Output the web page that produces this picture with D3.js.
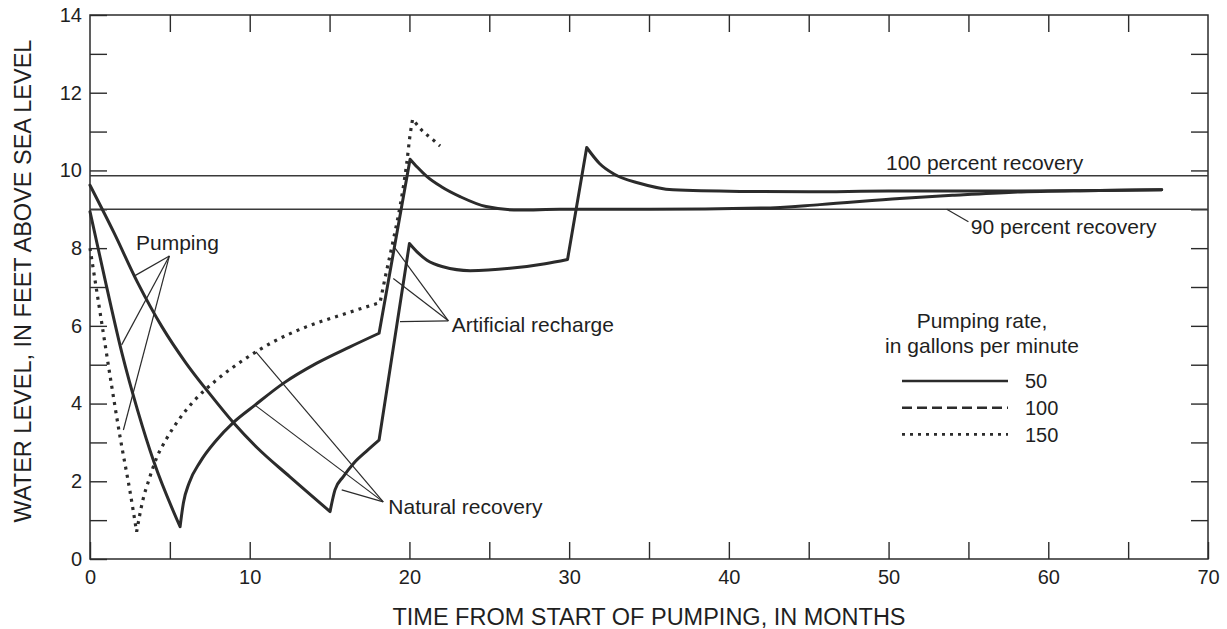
<!DOCTYPE html>
<html>
<head>
<meta charset="utf-8">
<script src="https://cdn.jsdelivr.net/npm/d3@7"></script>
<style>
  html, body { margin: 0; padding: 0; background: #fff; }
  svg { display: block; font-family: "Liberation Sans", Arial, Helvetica, sans-serif; }
  text { fill: #1f1f1f; }
</style>
</head>
<body>
<svg id="chart" width="1227" height="629"></svg>
<script>
// Water level (ft above sea level) against time since pumping began (months),
// for three pumping rates. Break indices mark sharp corners in each record
// (end of pumping, start/end of artificial recharge).
const xTicks = [0, 5, 10, 15, 20, 25, 30, 35, 40, 45, 50, 55, 60, 65, 70];
const yTicks = [0, 1, 2, 3, 4, 5, 6, 7, 8, 9, 10, 11, 12, 13, 14];

const rate50Months = [0, 1.5, 3.0, 4.5, 6.0, 7.5, 9.0, 10.5, 12.5, 15.03,
  15.34, 15.86, 16.5, 17.3, 18.1, 20.0, 20.56, 21.1, 22.1, 23.8, 26.3, 28.5, 29.9,
  31.1, 31.9, 32.8, 34.4, 36.5, 40.7, 45.0, 50.0, 57.8, 62.0, 67.1];
const rate50Level = [9.62, 8.40, 7.10, 5.98, 5.05, 4.25, 3.50, 2.85, 2.12, 1.22,
  1.78, 2.12, 2.46, 2.77, 3.06, 8.12, 7.87, 7.69, 7.52, 7.42, 7.48, 7.60, 7.71,
  10.59, 10.18, 9.91, 9.67, 9.50, 9.46, 9.45, 9.47, 9.47, 9.48, 9.50];
const rate50Breaks = [9, 14, 15, 22, 23];

const rate100Months = [0, 1.0, 2.0, 3.0, 4.0, 5.64, 5.85, 6.2, 6.9, 7.9, 8.97,
  10.33, 12.1, 14.2, 16.28, 18.1, 20.04, 20.5, 21.1, 22.0, 23.2, 24.8, 26.9, 29.4,
  35.0, 42.0, 45.7, 50.7, 54.0, 57.8, 62.0, 67.1];
const rate100Level = [8.94, 7.08, 5.30, 3.80, 2.50, 0.83, 1.45, 1.95, 2.50, 3.05, 3.51,
  3.96, 4.52, 5.04, 5.46, 5.81, 10.29, 10.08, 9.84, 9.58, 9.32, 9.07, 8.98, 9.00,
  9.00, 9.03, 9.12, 9.28, 9.36, 9.44, 9.48, 9.50];
const rate100Breaks = [5, 15, 16];

const rate150Months = [0, 0.63, 1.3, 1.9, 2.5, 2.92, 3.3, 3.7, 4.17, 4.8, 5.5, 6.47,
  7.93, 9.6, 11.48, 13.57, 15.65, 18.16, 18.47, 18.99, 19.41, 19.83, 20.04, 20.2,
  20.76, 21.5, 21.92];
const rate150Level = [8.0, 6.35, 4.6, 3.1, 1.75, 0.70, 1.5, 2.05, 2.6, 3.1, 3.55, 4.05,
  4.61, 5.12, 5.59, 5.98, 6.27, 6.60, 7.22, 8.21, 9.07, 10.18, 10.91, 11.32,
  11.04, 10.78, 10.63];
const rate150Breaks = [5, 17, 23];

// Reference recovery levels
const recoveryNames = ["100 percent recovery", "90 percent recovery"];
const recoveryLevels = [9.86, 9.0];

// Legend
const legendRates = ["50", "100", "150"];
const legendDashes = [null, "10,5", "3,5"];

const svg = d3.select("#chart");
const x = d3.scaleLinear().domain([0, 70]).range([90, 1208]);
const y = d3.scaleLinear().domain([0, 14]).range([559, 15]);
const ink = "#2b2b2b";

// ---- Axes with inward ticks on all four sides ----
const tick = 17;
function styleAxis(g) {
  g.select(".domain").remove();
  g.selectAll(".tick line").attr("stroke", ink).attr("stroke-width", 1.4);
  g.selectAll(".tick text").attr("fill", "#1f1f1f").style("font-size", "20px")
    .style("font-family", '"Liberation Sans", Arial, sans-serif');
}
svg.append("g").attr("transform", `translate(0,${y(0)})`)
  .call(d3.axisBottom(x).tickValues(xTicks).tickSizeInner(-tick).tickSizeOuter(0)
    .tickPadding(11).tickFormat(d => d % 10 === 0 ? d : ""))
  .call(styleAxis);
svg.append("g").attr("transform", `translate(0,${y(14)})`)
  .call(d3.axisTop(x).tickValues(xTicks.slice(1, -1)).tickSizeInner(-tick).tickSizeOuter(0)
    .tickFormat(""))
  .call(styleAxis);
svg.append("g").attr("transform", `translate(${x(0)},0)`)
  .call(d3.axisLeft(y).tickValues(yTicks).tickSizeInner(-tick).tickSizeOuter(0)
    .tickPadding(8).tickFormat(d => d % 2 === 0 ? d : ""))
  .call(styleAxis);
svg.append("g").attr("transform", `translate(${x(70)},0)`)
  .call(d3.axisRight(y).tickValues(yTicks.slice(1, -1)).tickSizeInner(-tick).tickSizeOuter(0)
    .tickFormat(""))
  .call(styleAxis);

// Plot frame
svg.append("rect")
  .attr("x", x(0)).attr("y", y(14))
  .attr("width", x(70) - x(0)).attr("height", y(0) - y(14))
  .attr("fill", "none").attr("stroke", ink).attr("stroke-width", 1.5);

// ---- Recovery reference lines ----
svg.selectAll("line.recovery").data(recoveryLevels).join("line")
  .attr("class", "recovery")
  .attr("x1", x(0)).attr("x2", x(70))
  .attr("y1", d => y(d)).attr("y2", d => y(d))
  .attr("stroke", "#3a3a3a").attr("stroke-width", 1.5);

// ---- Hydrograph curves ----
const line = d3.line().x(d => x(d[0])).y(d => y(d[1])).curve(d3.curveMonotoneX);
// Each record is smoothed piece by piece between its corners, and the pieces
// are joined end to end so the record stays one continuous path
function joined(months, levels, breaks) {
  const pts = months.map((m, i) => [m, levels[i]]);
  const cuts = [0, ...breaks, pts.length - 1];
  const parts = [];
  for (let i = 0; i < cuts.length - 1; i++) {
    let seg = line(pts.slice(cuts[i], cuts[i + 1] + 1));
    if (i > 0) seg = seg.replace(/^M[^CLZ]*/, "");
    parts.push(seg);
  }
  return parts.join("");
}

svg.append("path").attr("d", joined(rate100Months, rate100Level, rate100Breaks))
  .attr("fill", "none").attr("stroke", ink).attr("stroke-width", 3)
  .attr("stroke-linejoin", "round").attr("stroke-linecap", "round");
svg.append("path").attr("d", joined(rate50Months, rate50Level, rate50Breaks))
  .attr("fill", "none").attr("stroke", ink).attr("stroke-width", 3)
  .attr("stroke-linejoin", "round").attr("stroke-linecap", "round");
svg.append("path").attr("d", joined(rate150Months, rate150Level, rate150Breaks))
  .attr("fill", "none").attr("stroke", ink).attr("stroke-width", 3.2)
  .attr("stroke-dasharray", "3,5.2");

// ---- Annotations with leader lines ----
const notes = [
  { text: "Pumping", at: [2.88, 7.95], apex: [4.97, 7.80],
    ends: [[2.76, 7.28], [1.98, 5.51], [2.09, 3.32]] },
  { text: "Artificial recharge", at: [22.65, 5.85], apex: [22.44, 6.13],
    ends: [[19.1, 8.0], [18.99, 7.22], [19.41, 6.11]] },
  { text: "Natural recovery", at: [18.68, 1.15], apex: [18.36, 1.47],
    ends: [[10.39, 5.33], [10.33, 3.96], [15.76, 1.78]] },
  { text: recoveryNames[0], at: [49.84, 10.01], apex: null, ends: [] },
  { text: recoveryNames[1], at: [55.15, 8.36], apex: [55.0, 8.68],
    ends: [[53.64, 9.0]] }
];
notes.forEach(n => {
  n.ends.forEach(e => {
    svg.append("line")
      .attr("x1", x(n.apex[0])).attr("y1", y(n.apex[1]))
      .attr("x2", x(e[0])).attr("y2", y(e[1]))
      .attr("stroke", ink).attr("stroke-width", 1.2);
  });
  svg.append("text").attr("x", x(n.at[0])).attr("y", y(n.at[1]))
    .style("font-size", "21px").text(n.text);
});

// ---- Legend ----
const legend = svg.append("g").attr("transform", "translate(982,0)");
legend.append("text").attr("y", 328).attr("text-anchor", "middle")
  .style("font-size", "21px").text("Pumping rate,");
legend.append("text").attr("y", 353).attr("text-anchor", "middle")
  .style("font-size", "21px").text("in gallons per minute");
const rows = legend.selectAll("g.row").data(legendRates).join("g")
  .attr("class", "row")
  .attr("transform", (d, i) => `translate(0,${381 + i * 26.7})`);
rows.append("line").attr("x1", -80).attr("x2", 26)
  .attr("stroke", ink).attr("stroke-width", 2.6)
  .attr("stroke-dasharray", (d, i) => legendDashes[i]);
rows.append("text").attr("x", 43).attr("y", 7.3)
  .style("font-size", "20px").text(d => d);

// ---- Axis titles ----
svg.append("text").attr("x", 649).attr("y", 625).attr("text-anchor", "middle")
  .style("font-size", "23.5px").text("TIME FROM START OF PUMPING, IN MONTHS");
svg.append("text").attr("transform", "translate(31,281) rotate(-90)")
  .attr("text-anchor", "middle")
  .style("font-size", "23.5px").text("WATER LEVEL, IN FEET ABOVE SEA LEVEL");
</script>
</body>
</html>
